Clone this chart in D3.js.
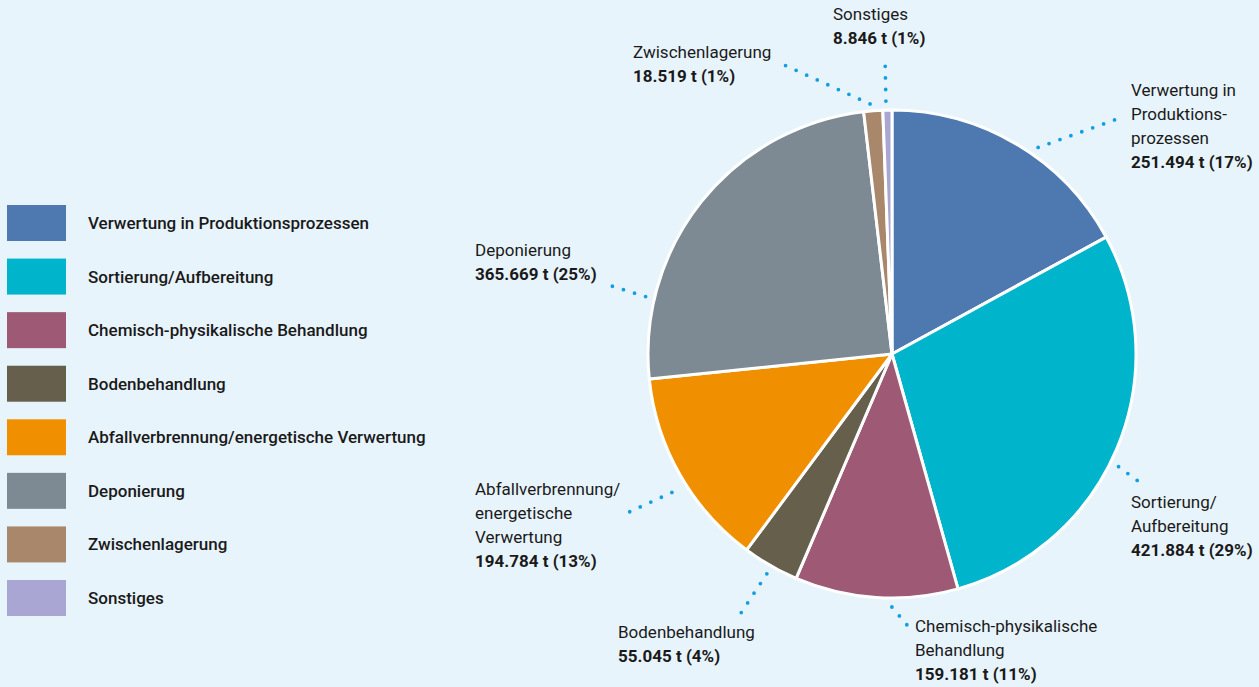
<!DOCTYPE html>
<html>
<head>
<meta charset="utf-8">
<script src="https://cdn.jsdelivr.net/npm/d3@7"></script>
<style>
  body { margin: 0; background: #e8f4fc; }
  svg { display: block; font-family: Roboto, "Liberation Sans", sans-serif; }
</style>
</head>
<body>
<div id="chart"></div>
<script>
// data
var categories = [
    "Verwertung in Produktionsprozessen",
    "Sortierung/Aufbereitung",
    "Chemisch-physikalische Behandlung",
    "Bodenbehandlung",
    "Abfallverbrennung/energetische Verwertung",
    "Deponierung",
    "Zwischenlagerung",
    "Sonstiges"
];
var tonnes = [251494, 421884, 159181, 55045, 194784, 365669, 18519, 8846];
var valueLabels = ["251.494 t (17%)", "421.884 t (29%)", "159.181 t (11%)", "55.045 t (4%)",
    "194.784 t (13%)", "365.669 t (25%)", "18.519 t (1%)", "8.846 t (1%)"];
var labelLines = [
    ["Verwertung in", "Produktions-", "prozessen"],
    ["Sortierung/", "Aufbereitung"],
    ["Chemisch-physikalische", "Behandlung"],
    ["Bodenbehandlung"],
    ["Abfallverbrennung/", "energetische", "Verwertung"],
    ["Deponierung"],
    ["Zwischenlagerung"],
    ["Sonstiges"]
];
var colors = ["#4e79b0", "#00b4cc", "#9e5a74", "#665f4c", "#f09000", "#7d8a93", "#a8876b", "#a9a6d4"];

// label layout: text position, leader end point, angle shift of leader start (deg)
var labelPos = [
    {x: 1131, y: 96,  ex: 1120, ey: 118, shift: 4.6,   r: 9},
    {x: 1131, y: 508, ex: 1142, ey: 484, shift: 3.6,   r: 9},
    {x: 915,  y: 632, ex: 907,  ey: 625, shift: -3.7,  r: 9},
    {x: 618,  y: 638, ex: 741,  ey: 613, shift: -0.2,  r: 9},
    {x: 475,  y: 495, ex: 627,  ey: 513, shift: -2.5,  r: 16},
    {x: 475,  y: 256, ex: 602,  ey: 283, shift: -25.6, r: 9},
    {x: 633,  y: 58,  ex: 780,  ey: 63,  shift: -0.6,  r: 7},
    {x: 833,  y: 20,  ex: 885,  ey: 55,  shift: -0.3,  r: 9}
];

var width = 1259, height = 687;
var cx = 892, cy = 354, radius = 244;
var lineH = 24;

var svg = d3.select("#chart").append("svg")
    .attr("width", width)
    .attr("height", height);

svg.append("rect")
    .attr("width", width)
    .attr("height", height)
    .attr("fill", "#e8f4fc");

var data = categories.map(function(c, i) {
    return {name: c, value: tonnes[i], idx: i};
});

var pie = d3.pie().sort(null).value(function(d) { return d.value; });
var arc = d3.arc().innerRadius(0).outerRadius(radius);
var arcs = pie(data);

var g = svg.append("g")
    .attr("transform", "translate(" + cx + "," + cy + ")");

g.selectAll("path.slice")
    .data(arcs)
    .enter().append("path")
    .attr("class", "slice")
    .attr("d", arc)
    .attr("fill", function(d) { return colors[d.data.idx]; })
    .attr("stroke", "#ffffff")
    .attr("stroke-width", 3)
    .attr("stroke-linejoin", "round");

// leader lines (dotted)
svg.selectAll("line.leader")
    .data(arcs)
    .enter().append("line")
    .attr("class", "leader")
    .attr("x1", function(d) {
        var p = labelPos[d.data.idx];
        var a = (d.startAngle + d.endAngle) / 2 + p.shift * Math.PI / 180;
        return cx + (radius + p.r) * Math.sin(a);
    })
    .attr("y1", function(d) {
        var p = labelPos[d.data.idx];
        var a = (d.startAngle + d.endAngle) / 2 + p.shift * Math.PI / 180;
        return cy - (radius + p.r) * Math.cos(a);
    })
    .attr("x2", function(d) { return labelPos[d.data.idx].ex; })
    .attr("y2", function(d) { return labelPos[d.data.idx].ey; })
    .attr("stroke", "#129fe2")
    .attr("stroke-width", 3.8)
    .attr("stroke-linecap", "round")
    .attr("stroke-dasharray", "0 11.6");

// slice labels
var labels = svg.selectAll("text.label")
    .data(arcs)
    .enter().append("text")
    .attr("class", "label")
    .attr("x", function(d) { return labelPos[d.data.idx].x; })
    .attr("y", function(d) { return labelPos[d.data.idx].y; })
    .style("font-size", "17px")
    .attr("fill", "#1a1a1a");

labels.each(function(d) {
    var t = d3.select(this);
    var p = labelPos[d.data.idx];
    var lines = labelLines[d.data.idx];
    lines.forEach(function(l, k) {
        t.append("tspan")
            .attr("x", p.x)
            .attr("y", p.y + k * lineH)
            .style("font-weight", 400)
            .text(l);
    });
    t.append("tspan")
        .attr("x", p.x)
        .attr("y", p.y + lines.length * lineH)
        .style("font-weight", 700)
        .text(valueLabels[d.data.idx]);
});

// legend
var legendY = d3.scaleLinear().domain([0, categories.length - 1]).range([205, 580]);

var legend = svg.append("g").attr("class", "legend");

var item = legend.selectAll("g")
    .data(categories)
    .enter().append("g")
    .attr("transform", function(d, i) { return "translate(7," + legendY(i) + ")"; });

item.append("rect")
    .attr("width", 59)
    .attr("height", 36)
    .attr("fill", function(d, i) { return colors[i]; });

item.append("text")
    .attr("x", 81)
    .attr("y", 18)
    .attr("dy", "0.35em")
    .style("font-size", "17px")
    .style("font-weight", 500)
    .attr("fill", "#1a1a1a")
    .text(function(d) { return d; });
</script>
</body>
</html>
